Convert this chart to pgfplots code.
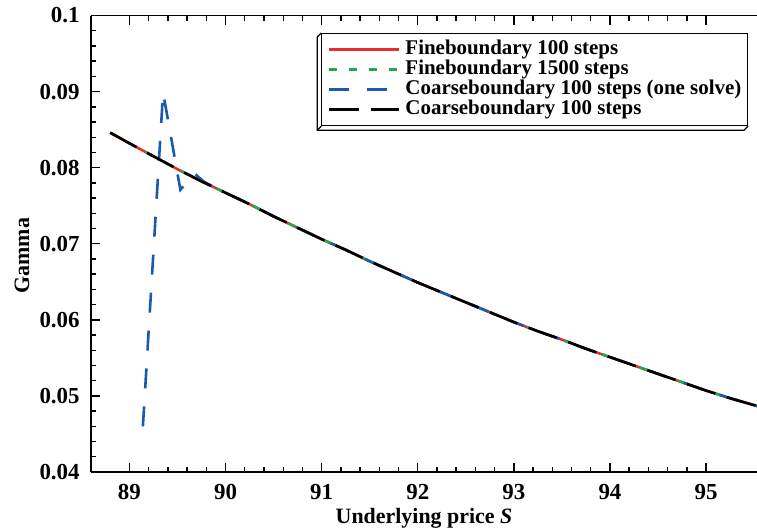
\documentclass[border=0pt]{standalone}
\usepackage{fontspec}
\setmainfont{Liberation Serif}
\usepackage{pgfplots}
\pgfplotsset{compat=1.18}

\definecolor{cred}{RGB}{232,45,45}
\definecolor{cgreen}{RGB}{30,170,80}
\definecolor{cblue}{RGB}{25,90,175}

\pgfplotstableread{
S G
88.80 0.0846
89.00 0.0832
89.25 0.0815
89.50 0.0798
89.75 0.0782
90.00 0.0767
90.25 0.0752
90.50 0.0736
90.75 0.0721
91.00 0.0706
91.25 0.0692
91.50 0.0677
91.75 0.0663
92.00 0.0649
92.25 0.0636
92.50 0.0623
92.75 0.0610
93.00 0.0597
93.25 0.0585
93.50 0.0574
93.75 0.0562
94.00 0.0551
94.25 0.0540
94.50 0.0529
94.75 0.0518
95.00 0.0507
95.25 0.0497
95.55 0.0486
}\fine

\pgfplotstableread{
S G
89.14 0.0460
89.35 0.0899
89.53 0.0771
89.68 0.0792
89.78 0.0781
90.00 0.0767
90.25 0.0752
90.50 0.0736
90.75 0.0721
91.00 0.0706
91.25 0.0692
91.50 0.0677
91.75 0.0663
92.00 0.0649
92.25 0.0636
92.50 0.0623
92.75 0.0610
93.00 0.0597
93.25 0.0585
93.50 0.0574
93.75 0.0562
94.00 0.0551
94.25 0.0540
94.50 0.0529
94.75 0.0518
95.00 0.0507
95.25 0.0497
95.55 0.0486
}\onesolve

\begin{document}
\begin{tikzpicture}
\begin{axis}[
  scale only axis,
  width=333bp, height=228.25bp,
  xmin=88.6, xmax=95.53,
  ymin=0.04, ymax=0.1,
  axis x line*=box, axis y line*=left,
  xtick={89,90,...,95},
  minor x tick num=4,
  ytick={0.04,0.05,0.06,0.07,0.08,0.09,0.1},
  yticklabels={0.04,0.05,0.06,0.07,0.08,0.09,0.1},
  minor y tick num=4,
  scaled y ticks=false,
  tick align=inside,
  major tick length=4.5bp, minor tick length=2.5bp,
  tick style={black, line width=0.7bp},
  axis line style={line width=0.8bp},
  /pgf/number format/assume math mode=true,
  ticklabel style={font=\fontsize{11.5}{13}\selectfont\bfseries, inner sep=0bp},
  xticklabel style={anchor=center, yshift=-10bp},
  yticklabel style={anchor=east, xshift=-5.5bp},
  xlabel={Underlying price \textit{S}},
  ylabel={Gamma},
  every axis x label/.style={at={(axis description cs:0.5,0)}, yshift=-23bp, anchor=center,
    font=\fontsize{11}{13}\selectfont\bfseries, inner sep=0bp},
  every axis y label/.style={at={(axis description cs:0,0.5)}, xshift=-34.5bp, yshift=-6bp,
    rotate=90, anchor=center, font=\fontsize{11}{13}\selectfont\bfseries, inner sep=0bp},
  legend cell align=left,
  legend style={at={(rel axis cs:1,1)}, anchor=north east, xshift=-4.5bp, yshift=-8.75bp,
    name=leg,
    font=\fontsize{10.5}{10}\selectfont\bfseries,
    draw=black, line width=0.6bp, fill=white,
    inner xsep=3bp, inner ysep=3bp, row sep=0bp,
    nodes={inner sep=0bp, text height=7.5bp, text depth=2.5bp},
    /tikz/every odd column/.append style={column sep=2.5bp}},
  legend image code/.code={\draw[#1] (0bp,0bp) -- (35bp,0bp);},
  clip=true,
]
\addplot[cred, line width=1.3bp] table[x=S,y=G] {\fine};
\addlegendentry{Fineboundary 100 steps}
\addplot[cgreen, line width=1.3bp, dash pattern=on 4bp off 6bp] table[x=S,y=G] {\fine};
\addlegendentry{Fineboundary 1500 steps}
\addplot[cblue, line width=1.3bp, dash pattern=on 10bp off 9bp] table[x=S,y=G] {\onesolve};
\addlegendentry{Coarseboundary 100 steps (one solve)}
\addplot[black, line width=1.3bp, dash pattern=on 15bp off 6bp] table[x=S,y=G] {\fine};
\addlegendentry{Coarseboundary 100 steps}
\end{axis}
\draw[line width=0.6bp] (leg.north west) -- ++(-2bp,-2bp) -- ([xshift=-2bp,yshift=-2bp]leg.south west)
  -- ([xshift=-2bp,yshift=-2bp]leg.south east) -- (leg.south east);
\draw[line width=0.6bp] (leg.south west) -- ++(-2bp,-2bp);
\pgfresetboundingbox
\path[use as bounding box] ([xshift=-45.5bp,yshift=-29bp]current axis.south west)
  rectangle ([yshift=7.75bp]current axis.north east);
\end{tikzpicture}
\end{document}
